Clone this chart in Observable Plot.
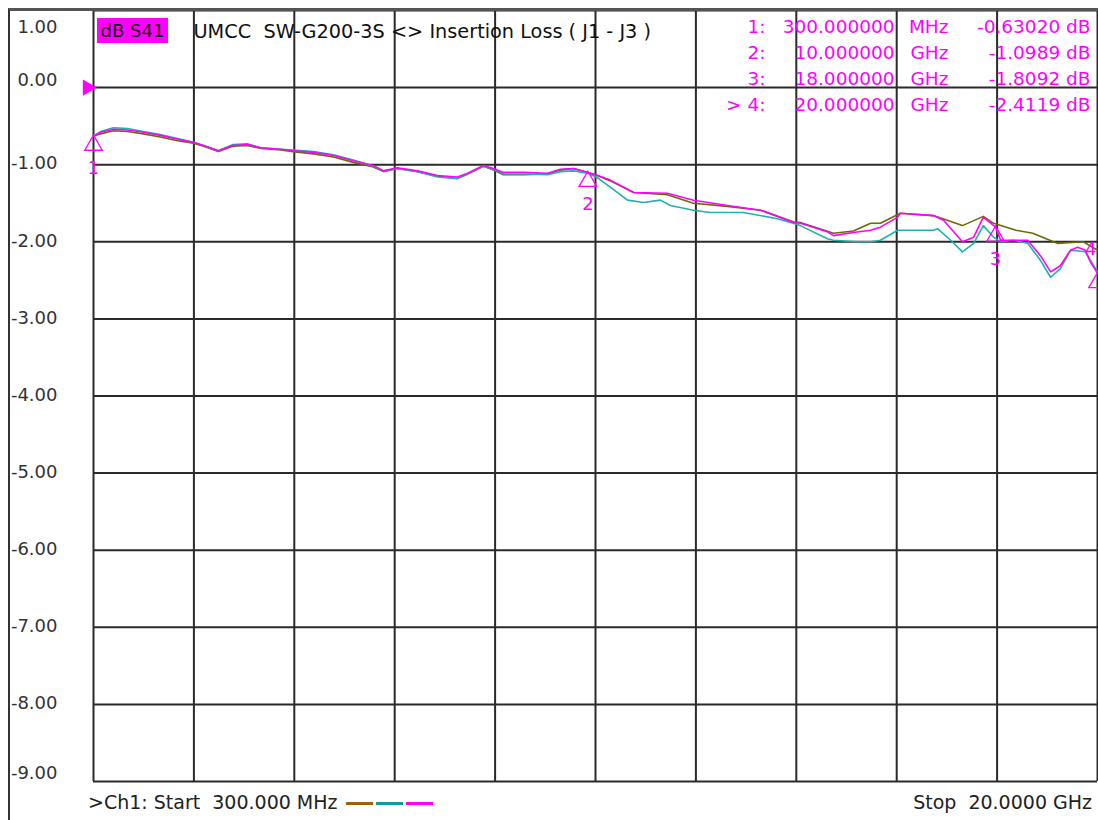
<!DOCTYPE html>
<html>
<head>
<meta charset="utf-8">
<script src="https://cdn.jsdelivr.net/npm/d3@7"></script>
<script src="https://cdn.jsdelivr.net/npm/@observablehq/plot@0.6"></script>
<style>
  html, body { margin: 0; padding: 0; background: #ffffff; }
  #wrap { position: relative; width: 1098px; height: 820px; overflow: hidden; background: #fff; font-family: "DejaVu Sans", sans-serif; }
  #wrap svg { position: absolute; left: 0; top: 0; }
  #outer { position: absolute; left: 8px; top: 8px; width: 1092px; height: 814px; border-left: 2px solid #333; border-top: 3px solid #555; box-sizing: border-box; pointer-events: none; }
  #meas { position: absolute; left: 97px; top: 18px; width: 71px; height: 25px; background: #ff00ff; color: #111; font-size: 18px; line-height: 25px; text-align: center; }
  #foot { position: absolute; left: 88px; top: 791px; font-size: 19px; color: #222; white-space: pre; }
  #foot .sw { display: inline-block; width: 27px; height: 3px; margin-left: 3px; vertical-align: middle; }
  #foot .sw.first { margin-left: 8px; }
  #stop { position: absolute; right: 6px; top: 791px; font-size: 19px; color: #222; white-space: pre; }
</style>
</head>
<body>
<div id="wrap"></div>
<script>
// ---- axis settings ----
const startGHz = 0.3;
const stopGHz = 20;
const freqTicks = d3.range(11).map(i => startGHz + i * (stopGHz - startGHz) / 10);
const dbTicks = [1, 0, -1, -2, -3, -4, -5, -6, -7, -8, -9];
const dbTickLabels = ["1.00", "0.00", "-1.00", "-2.00", "-3.00", "-4.00", "-5.00", "-6.00", "-7.00", "-8.00", "-9.00"];

// ---- trace 1 (olive) ----
const freqOlive = [0.30,0.44,0.69,0.97,1.28,1.61,1.95,2.26,2.46,2.75,3.03,3.32,3.58,3.97,4.22,4.62,5.01,5.40,5.79,5.99,6.26,6.66,7.05,7.44,7.64,7.95,8.15,8.34,8.74,9.21,9.46,9.72,10.0,10.19,10.44,10.90,11.56,12.07,12.74,13.39,14.03,14.17,14.82,15.21,15.55,15.74,16.13,16.78,17.35,17.76,17.96,18.40,18.73,19.21,19.72,20.0];
const dbOlive   = [-0.63,-0.60,-0.56,-0.57,-0.60,-0.64,-0.69,-0.72,-0.76,-0.83,-0.76,-0.75,-0.79,-0.81,-0.83,-0.86,-0.90,-0.97,-1.03,-1.09,-1.05,-1.09,-1.15,-1.18,-1.12,-1.02,-1.07,-1.13,-1.13,-1.12,-1.07,-1.05,-1.10,-1.14,-1.21,-1.36,-1.39,-1.50,-1.54,-1.59,-1.74,-1.75,-1.89,-1.86,-1.76,-1.76,-1.63,-1.66,-1.79,-1.67,-1.76,-1.85,-1.89,-2.02,-2.00,-2.11];

// ---- trace 2 (teal) ----
const freqTeal = [0.30,0.44,0.69,0.97,1.28,1.61,1.95,2.26,2.46,2.75,3.03,3.32,3.58,3.97,4.22,4.62,5.01,5.40,5.79,5.99,6.26,6.66,7.05,7.44,7.64,7.95,8.15,8.34,8.74,9.21,9.46,9.72,10.0,10.19,10.44,10.78,11.09,11.42,11.62,12.07,12.40,13.05,13.72,14.03,14.17,14.70,14.82,15.29,15.55,15.74,16.08,16.78,16.86,17.12,17.35,17.57,17.76,17.96,18.10,18.35,18.63,18.88,19.08,19.27,19.47,19.76,20.0];
const dbTeal   = [-0.63,-0.57,-0.52,-0.53,-0.57,-0.61,-0.66,-0.71,-0.75,-0.82,-0.74,-0.73,-0.78,-0.80,-0.81,-0.83,-0.87,-0.94,-1.02,-1.08,-1.05,-1.09,-1.16,-1.18,-1.12,-1.02,-1.06,-1.12,-1.12,-1.13,-1.09,-1.08,-1.11,-1.17,-1.29,-1.46,-1.49,-1.46,-1.53,-1.59,-1.62,-1.62,-1.70,-1.76,-1.79,-1.96,-1.98,-2.00,-2.00,-1.98,-1.85,-1.85,-1.83,-1.98,-2.13,-2.02,-1.79,-1.94,-2.00,-1.98,-2.02,-2.24,-2.46,-2.35,-2.11,-2.13,-2.39];

// ---- trace 3 (magenta) ----
const freqMagenta = [0.30,0.44,0.69,0.97,1.28,1.61,1.95,2.26,2.46,2.75,3.03,3.32,3.58,3.97,4.22,4.62,5.01,5.40,5.79,5.99,6.26,6.66,7.05,7.44,7.64,7.95,8.15,8.34,8.74,9.21,9.46,9.72,10.0,10.19,10.44,10.90,11.56,12.07,12.74,13.39,14.03,14.17,14.70,14.82,15.21,15.55,15.74,16.08,16.13,16.78,16.98,17.35,17.57,17.76,18.0,18.10,18.35,18.63,18.88,19.08,19.27,19.47,19.61,19.76,19.86,20.0];
const dbMagenta   = [-0.63,-0.58,-0.54,-0.55,-0.58,-0.62,-0.67,-0.71,-0.75,-0.82,-0.75,-0.74,-0.78,-0.80,-0.82,-0.84,-0.88,-0.95,-1.01,-1.08,-1.04,-1.08,-1.14,-1.16,-1.11,-1.01,-1.05,-1.10,-1.10,-1.11,-1.06,-1.05,-1.10,-1.14,-1.20,-1.36,-1.37,-1.46,-1.53,-1.59,-1.75,-1.76,-1.87,-1.92,-1.88,-1.85,-1.81,-1.68,-1.63,-1.66,-1.72,-2.00,-1.94,-1.68,-1.81,-1.98,-1.98,-1.98,-2.18,-2.39,-2.31,-2.11,-2.07,-2.11,-2.26,-2.41];

const traceNames = ["Trace 1", "Trace 2", "Trace 3"];
const traceColors = ["#6e6a00", "#1fb0b0", "#ff00ff"];
const legendColors = ["#a0600a", "#109c9c", "#ff00ff"];

// ---- markers ----
const markerIds = ["1", "2", "3", "4"];
const markerFreq = [0.3, 10, 18, 20];
const markerDb = [-0.6302, -1.0989, -1.8092, -2.4119];
const markerIdText = ["1:", "2:", "3:", "> 4:"];
const markerFreqText = ["300.000000", "10.000000", "18.000000", "20.000000"];
const markerUnitText = ["MHz", "GHz", "GHz", "GHz"];
const markerDbText = ["-0.63020 dB", "-1.0989 dB", "-1.8092 dB", "-2.4119 dB"];

const titleText = "UMCC  SW-G200-3S <> Insertion Loss ( J1 - J3 )";

// ---- tables ----
const toRows = (fs, ds, name) => fs.map((f, i) => ({freq: f, db: ds[i], trace: name}));
const traces = [
  toRows(freqOlive, dbOlive, traceNames[0]),
  toRows(freqTeal, dbTeal, traceNames[1]),
  toRows(freqMagenta, dbMagenta, traceNames[2])
];
const markers = markerIds.map((id, i) => ({id, freq: markerFreq[i], db: markerDb[i]}));
const yLabels = dbTicks.map((v, i) => ({v, label: dbTickLabels[i]}));

const labelStyle = {x: () => startGHz, y: "v", text: "label", textAnchor: "end", dx: -36, fill: "#333", fontSize: 18};
const tableMarks = markerIdText.map((t, i) => {
  const dy = 17 + i * 26;
  const o = {frameAnchor: "top-right", lineAnchor: "middle", fill: "#ff00ff", fontSize: 18.5, textAnchor: "end", dy};
  return [
    Plot.text([t], {...o, text: d => d, dx: -332}),
    Plot.text([markerFreqText[i]], {...o, text: d => d, dx: -203}),
    Plot.text([markerUnitText[i]], {...o, text: d => d, dx: -149}),
    Plot.text([markerDbText[i]], {...o, text: d => d, dx: -7})
  ];
}).flat();

const chart = Plot.plot({
  width: 1098,
  height: 820,
  marginLeft: 93,
  marginRight: 1,
  marginTop: 10,
  marginBottom: 39,
  style: {fontFamily: "DejaVu Sans, sans-serif", fontSize: "18px", background: "transparent", overflow: "visible"},
  x: {domain: [startGHz, stopGHz], axis: null},
  y: {domain: [-9, 1], axis: null},
  color: {domain: traceNames, range: traceColors},
  marks: [
    Plot.ruleX(freqTicks, {stroke: "#2a2a2a", strokeWidth: 2}),
    Plot.ruleY(dbTicks, {stroke: "#2a2a2a", strokeWidth: 2}),
    // y labels
    Plot.text(yLabels.slice(0, 1), {...labelStyle, dy: 17}),
    Plot.text(yLabels.slice(1, 2), {...labelStyle, dy: -7}),
    Plot.text(yLabels.slice(2, 10), {...labelStyle, dy: -1}),
    Plot.text(yLabels.slice(10), {...labelStyle, dy: -8}),
    // title
    Plot.text([titleText], {frameAnchor: "top-left", lineAnchor: "middle", text: d => d, dx: 100, dy: 21, textAnchor: "start", fill: "#111", fontSize: 19.3}),
    ...tableMarks,
    // traces
    ...traces.map(rows => Plot.line(rows, {x: "freq", y: "db", stroke: "trace", strokeWidth: 1.6, curve: "linear"})),
    // reference level marker
    Plot.dot([0], {x: () => startGHz, y: d => d, symbol: "triangle", rotate: 90, r: 6, fill: "#ff00ff", stroke: "none", dx: -6}),
    // marker triangles and labels
    Plot.dot(markers, {x: "freq", y: "db", symbol: "triangle", r: 6.5, fill: "none", stroke: "#ff00ff", strokeWidth: 1.3, dy: 9}),
    Plot.text(markers.slice(0, 3), {x: "freq", y: "db", text: "id", fill: "#ff00ff", fontSize: 18, dy: 32}),
    Plot.text(markers.slice(3), {x: "freq", y: "db", text: "id", fill: "#ff00ff", fontSize: 18, textAnchor: "end", dx: -1, dy: -24})
  ]
});

const wrap = document.getElementById("wrap");
wrap.appendChild(chart);

const outer = document.createElement("div");
outer.id = "outer";
wrap.appendChild(outer);

const meas = document.createElement("div");
meas.id = "meas";
meas.textContent = "dB S41";
wrap.appendChild(meas);

const foot = document.createElement("div");
foot.id = "foot";
foot.append(">Ch1: Start  300.000 MHz");
legendColors.forEach((c, i) => {
  const s = document.createElement("span");
  s.className = i === 0 ? "sw first" : "sw";
  s.style.background = c;
  foot.appendChild(s);
});
wrap.appendChild(foot);

const stop = document.createElement("div");
stop.id = "stop";
stop.textContent = "Stop  20.0000 GHz";
wrap.appendChild(stop);
</script>
</body>
</html>
